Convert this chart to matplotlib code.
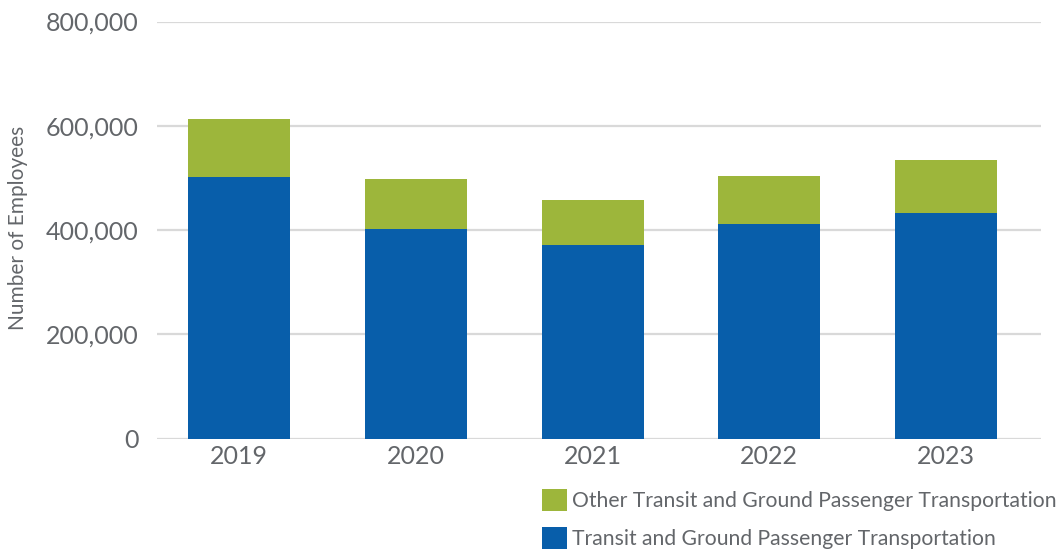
import matplotlib.pyplot as plt
import numpy as np

plt.rcParams['font.family'] = ['Lato', 'DejaVu Sans']

years = ["2019", "2020", "2021", "2022", "2023"]
transit = [502000, 402000, 371000, 412000, 433000]
other = [111000, 96000, 87000, 92000, 102000]
yticks = [0, 200000, 400000, 600000, 800000]

BLUE = "#085EAA"
GREEN = "#9DB63B"
TEXT = "#63666A"

fig = plt.figure(figsize=(10.58, 5.58), dpi=100)
ax = fig.add_axes([157 / 1058, 1 - 438.5 / 558, (1041 - 157) / 1058, (438.5 - 21.5) / 558])

x = np.arange(len(years))
ax.bar(x, transit, width=0.577, color=BLUE, zorder=3,
       label="Transit and Ground Passenger Transportation")
ax.bar(x, other, width=0.577, bottom=transit, color=GREEN, zorder=3,
       label="Other Transit and Ground Passenger Transportation")

ax.set_xlim(-0.464, 4.537)
ax.set_ylim(0, 800000)
ax.set_yticks(yticks)
ax.set_yticklabels([f"{v:,}" for v in yticks])
ax.set_xticks(x)
ax.set_xticklabels(years)
ax.grid(axis="y", color="#D9D9D9", linewidth=1.6, zorder=0)
for s in ax.spines.values():
    s.set_visible(False)
ax.tick_params(length=0, labelsize=18, labelcolor=TEXT, pad=13)
ax.tick_params(axis="x", pad=5)

fig.text(18 / 1058, 1 - 228 / 558, "Number of Employees", rotation=90,
         ha="center", va="center", fontsize=15, color=TEXT)

h, l = ax.get_legend_handles_labels()
leg = fig.legend(h[::-1], l[::-1], loc="upper left",
                 bbox_to_anchor=(542 / 1058, 1 - 489 / 558),
                 frameon=False, fontsize=15.2, handlelength=1.2, handleheight=1.2,
                 handletextpad=0.22, labelspacing=0.78, borderpad=0, borderaxespad=0)
for t in leg.get_texts():
    t.set_color(TEXT)

fig.savefig("out.png", dpi=100)
